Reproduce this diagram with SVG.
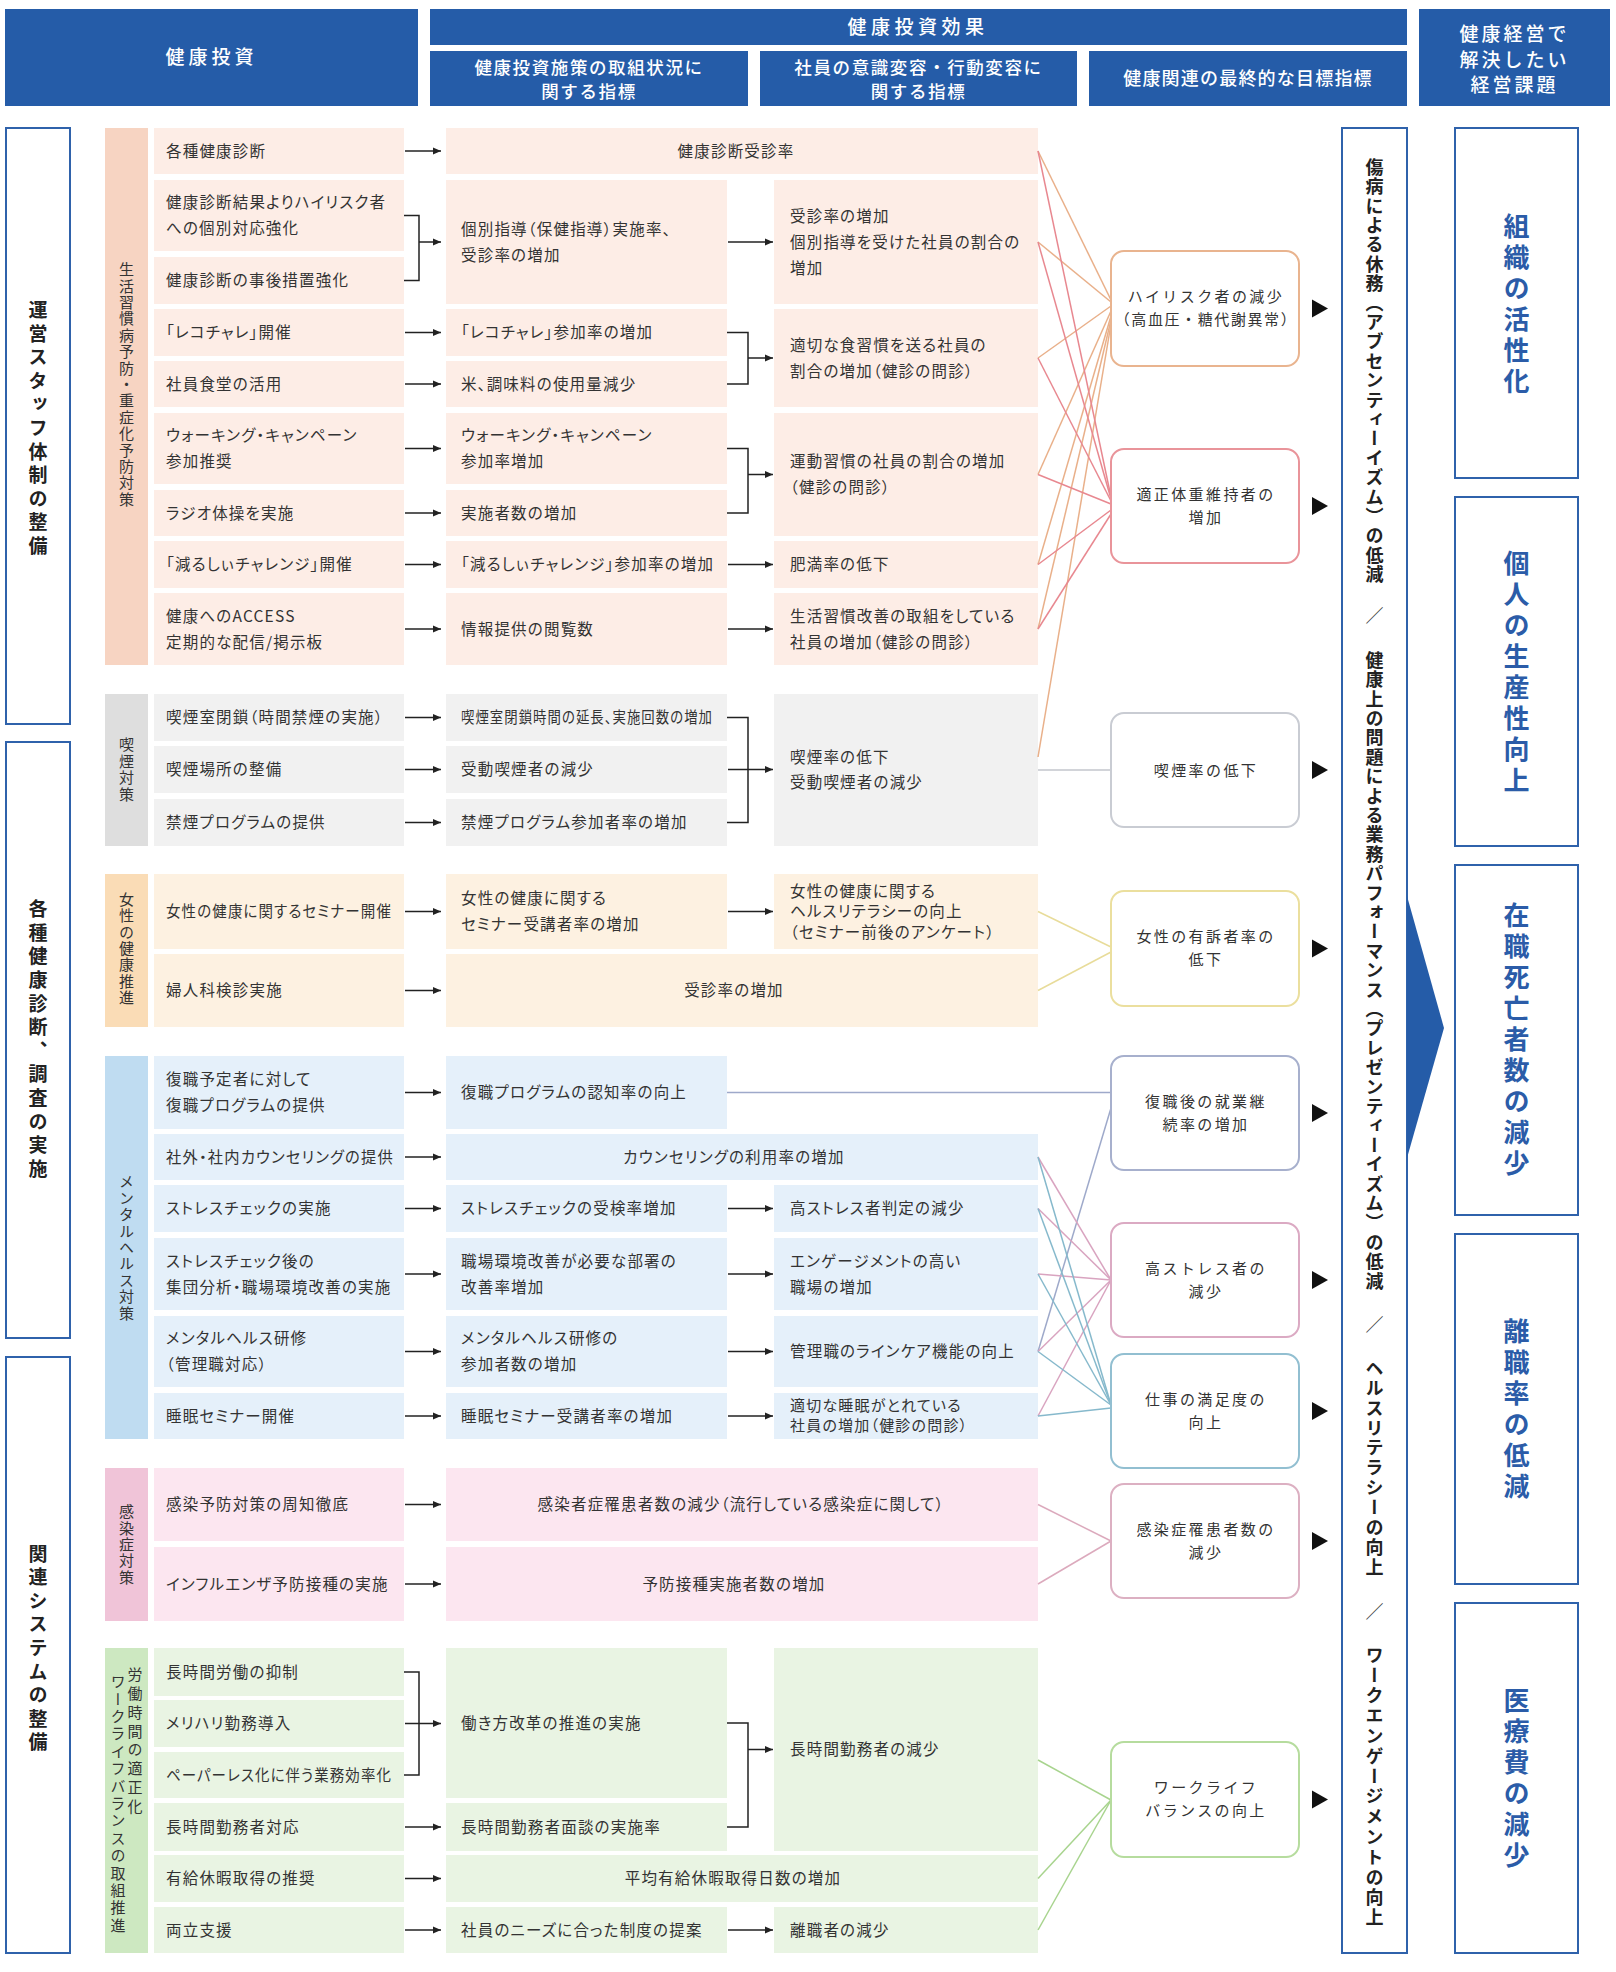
<svg xmlns="http://www.w3.org/2000/svg" width="1616" height="1972" viewBox="0 0 1616 1972">
<defs>
<style>
text{font-family:"Noto Sans CJK JP","Noto Sans",sans-serif;fill:#333}
.t{font-size:15.5px;letter-spacing:1.2px;font-feature-settings:"palt" 1}
.tc{font-size:15.5px;letter-spacing:1.2px;font-feature-settings:"palt" 1;text-anchor:middle}
.gt{font-size:15px;letter-spacing:2.4px;text-anchor:middle}
.h{fill:#fff;text-anchor:middle;font-weight:500}
.hb{fill:#255ca8}
.vt{writing-mode:vertical-rl;text-anchor:middle}
.strip{font-size:15px;letter-spacing:1.4px}
.pil{font-size:19px;letter-spacing:4.6px;font-weight:700;fill:#222}
.iss{font-size:26px;letter-spacing:5px;font-weight:700;fill:#2b5ca8}
.out{font-size:18px;font-weight:700;fill:#222;writing-mode:vertical-rl}
.sl{font-size:18px;fill:#333;text-anchor:middle}
.ob{fill:#fff;stroke:#2f62ab;stroke-width:2}
.ar{fill:none;stroke:#222;stroke-width:1.5}
.goal{fill:#fff;stroke-width:2}
.cn{fill:none;stroke-width:1.5}
.tri{fill:#111}
.s1 .b{fill:#fdede6}.s1 .st{fill:#f7d4c2}
.s2 .b{fill:#f1f1f1}.s2 .st{fill:#dedede}
.s3 .b{fill:#fdf1e1}.s3 .st{fill:#fadcb6}
.s4 .b{fill:#e5f0fa}.s4 .st{fill:#bfdcf1}
.s5 .b{fill:#fce6f0}.s5 .st{fill:#f0c4d8}
.s6 .b{fill:#e9f4e3}.s6 .st{fill:#cde8c1}
</style>
<marker id="ah" viewBox="0 0 8 8" markerWidth="8" markerHeight="8" refX="8" refY="4" orient="auto" markerUnits="userSpaceOnUse"><path d="M0,0.5L8,4L0,7.5z" fill="#222"/></marker>
</defs>
<rect x="0" y="0" width="1616" height="1972" fill="#fff"/>

<g id="header">
<g id="h-invest"><rect class="hb" x="5" y="9" width="413" height="97"/><text class="h" x="211.5" y="64" style="font-size:19px;letter-spacing:4px">健康投資</text></g>
<g id="h-effect"><rect class="hb" x="430" y="9" width="977" height="36"/><text class="h" x="918" y="34" style="font-size:19px;letter-spacing:4.5px">健康投資効果</text></g>
<g id="h-sub1"><rect class="hb" x="430" y="51" width="318" height="55"/><text class="h" style="font-size:17.5px;letter-spacing:1.6px"><tspan x="589" y="74">健康投資施策の取組状況に</tspan><tspan x="589" y="97.5">関する指標</tspan></text></g>
<g id="h-sub2"><rect class="hb" x="760" y="51" width="317" height="55"/><text class="h" style="font-size:17.5px;letter-spacing:1.6px"><tspan x="918.5" y="74">社員の意識変容・行動変容に</tspan><tspan x="918.5" y="97.5">関する指標</tspan></text></g>
<g id="h-sub3"><rect class="hb" x="1089" y="51" width="318" height="55"/><text class="h" x="1248" y="84.5" style="font-size:18px;letter-spacing:1.2px">健康関連の最終的な目標指標</text></g>
<g id="h-issue"><rect class="hb" x="1419" y="9" width="191" height="97"/><text class="h" style="font-size:19px;letter-spacing:3px"><tspan x="1514.5" y="41">健康経営で</tspan><tspan x="1514.5" y="66.5">解決したい</tspan><tspan x="1514.5" y="92">経営課題</tspan></text></g>
</g>

<g id="pillars">
<g id="pillar-staff"><rect class="ob" x="6" y="128" width="64" height="596"/><text class="pil vt" x="38" y="430">運営スタッフ体制の整備</text></g>
<g id="pillar-checkup"><rect class="ob" x="6" y="742" width="64" height="596"/><text class="pil vt" x="38" y="1041">各種健康診断、調査の実施</text></g>
<g id="pillar-system"><rect class="ob" x="6" y="1357" width="64" height="596"/><text class="pil vt" x="38" y="1650">関連システムの整備</text></g>
</g>

<g id="sec-lifestyle" class="s1">
<g id="s1-cat"><rect class="st" x="105" y="128" width="43" height="537"/><text class="strip vt" x="126.5" y="385">生活習慣病予防・重症化予防対策</text></g>
<g id="s1-a1"><rect class="b" x="154" y="128" width="250" height="46"/><text class="t" x="166" y="156.5">各種健康診断</text></g>
<g id="s1-a2"><rect class="b" x="154" y="180" width="250" height="71"/><text class="t"><tspan x="166" y="208">健康診断結果よりハイリスク者</tspan><tspan x="166" y="234">への個別対応強化</tspan></text></g>
<g id="s1-a3"><rect class="b" x="154" y="257" width="250" height="47"/><text class="t" x="166" y="286">健康診断の事後措置強化</text></g>
<g id="s1-a4"><rect class="b" x="154" y="309" width="250" height="47"/><text class="t" x="166" y="338">「レコチャレ」開催</text></g>
<g id="s1-a5"><rect class="b" x="154" y="361" width="250" height="46"/><text class="t" x="166" y="389.5">社員食堂の活用</text></g>
<g id="s1-a6"><rect class="b" x="154" y="413" width="250" height="71"/><text class="t"><tspan x="166" y="441">ウォーキング・キャンペーン</tspan><tspan x="166" y="467">参加推奨</tspan></text></g>
<g id="s1-a7"><rect class="b" x="154" y="490" width="250" height="46"/><text class="t" x="166" y="518.5">ラジオ体操を実施</text></g>
<g id="s1-a8"><rect class="b" x="154" y="541" width="250" height="47"/><text class="t" x="166" y="570">「減るしぃチャレンジ」開催</text></g>
<g id="s1-a9"><rect class="b" x="154" y="593" width="250" height="72"/><text class="t"><tspan x="166" y="621.5">健康へのACCESS</tspan><tspan x="166" y="647.5">定期的な配信/掲示板</tspan></text></g>
<g id="s1-b1"><rect class="b" x="446" y="128" width="592" height="46"/><text class="tc" x="736" y="156.5">健康診断受診率</text></g>
<g id="s1-b2"><rect class="b" x="446" y="180" width="281" height="124"/><text class="t"><tspan x="461" y="234.5">個別指導（保健指導）実施率、</tspan><tspan x="461" y="260.5">受診率の増加</tspan></text></g>
<g id="s1-b4"><rect class="b" x="446" y="309" width="281" height="47"/><text class="t" x="461" y="338">「レコチャレ」参加率の増加</text></g>
<g id="s1-b5"><rect class="b" x="446" y="361" width="281" height="46"/><text class="t" x="461" y="389.5">米、調味料の使用量減少</text></g>
<g id="s1-b6"><rect class="b" x="446" y="413" width="281" height="71"/><text class="t"><tspan x="461" y="441">ウォーキング・キャンペーン</tspan><tspan x="461" y="467">参加率増加</tspan></text></g>
<g id="s1-b7"><rect class="b" x="446" y="490" width="281" height="46"/><text class="t" x="461" y="518.5">実施者数の増加</text></g>
<g id="s1-b8"><rect class="b" x="446" y="541" width="281" height="47"/><text class="t" x="461" y="570">「減るしぃチャレンジ」参加率の増加</text></g>
<g id="s1-b9"><rect class="b" x="446" y="593" width="281" height="72"/><text class="t" x="461" y="634.5">情報提供の閲覧数</text></g>
<g id="s1-c2"><rect class="b" x="774" y="180" width="264" height="124"/><text class="t"><tspan x="790" y="221.5">受診率の増加</tspan><tspan x="790" y="247.5">個別指導を受けた社員の割合の</tspan><tspan x="790" y="273.5">増加</tspan></text></g>
<g id="s1-c4"><rect class="b" x="774" y="309" width="264" height="98"/><text class="t"><tspan x="790" y="350.5">適切な食習慣を送る社員の</tspan><tspan x="790" y="376.5">割合の増加（健診の問診）</tspan></text></g>
<g id="s1-c6"><rect class="b" x="774" y="413" width="264" height="123"/><text class="t"><tspan x="790" y="467">運動習慣の社員の割合の増加</tspan><tspan x="790" y="493">（健診の問診）</tspan></text></g>
<g id="s1-c8"><rect class="b" x="774" y="541" width="264" height="47"/><text class="t" x="790" y="570">肥満率の低下</text></g>
<g id="s1-c9"><rect class="b" x="774" y="593" width="264" height="72"/><text class="t"><tspan x="790" y="621.5">生活習慣改善の取組をしている</tspan><tspan x="790" y="647.5">社員の増加（健診の問診）</tspan></text></g>
</g>

<g id="sec-smoking" class="s2">
<g id="s2-cat"><rect class="st" x="105" y="694" width="43" height="152"/><text class="strip vt" x="126.5" y="770">喫煙対策</text></g>
<g id="s2-a1"><rect class="b" x="154" y="694" width="250" height="47"/><text class="t" x="166" y="723">喫煙室閉鎖（時間禁煙の実施）</text></g>
<g id="s2-a2"><rect class="b" x="154" y="746" width="250" height="47"/><text class="t" x="166" y="775">喫煙場所の整備</text></g>
<g id="s2-a3"><rect class="b" x="154" y="799" width="250" height="47"/><text class="t" x="166" y="828">禁煙プログラムの提供</text></g>
<g id="s2-b1"><rect class="b" x="446" y="694" width="281" height="47"/><text class="t" x="461" y="723" textLength="252" lengthAdjust="spacingAndGlyphs">喫煙室閉鎖時間の延長、実施回数の増加</text></g>
<g id="s2-b2"><rect class="b" x="446" y="746" width="281" height="47"/><text class="t" x="461" y="775">受動喫煙者の減少</text></g>
<g id="s2-b3"><rect class="b" x="446" y="799" width="281" height="47"/><text class="t" x="461" y="828">禁煙プログラム参加者率の増加</text></g>
<g id="s2-c1"><rect class="b" x="774" y="694" width="264" height="152"/><text class="t"><tspan x="790" y="763">喫煙率の低下</tspan><tspan x="790" y="788">受動喫煙者の減少</tspan></text></g>
</g>

<g id="sec-women" class="s3">
<g id="s3-cat"><rect class="st" x="105" y="874" width="43" height="153"/><text class="strip vt" x="126.5" y="949">女性の健康推進</text></g>
<g id="s3-a1"><rect class="b" x="154" y="874" width="250" height="75"/><text class="t" x="166" y="917" textLength="226" lengthAdjust="spacingAndGlyphs">女性の健康に関するセミナー開催</text></g>
<g id="s3-a2"><rect class="b" x="154" y="954" width="250" height="73"/><text class="t" x="166" y="996">婦人科検診実施</text></g>
<g id="s3-b1"><rect class="b" x="446" y="874" width="281" height="75"/><text class="t"><tspan x="461" y="904">女性の健康に関する</tspan><tspan x="461" y="930">セミナー受講者率の増加</tspan></text></g>
<g id="s3-c1"><rect class="b" x="774" y="874" width="264" height="75"/><text class="t"><tspan x="790" y="896.5">女性の健康に関する</tspan><tspan x="790" y="917">ヘルスリテラシーの向上</tspan><tspan x="790" y="937.5">（セミナー前後のアンケート）</tspan></text></g>
<g id="s3-b2"><rect class="b" x="446" y="954" width="592" height="73"/><text class="tc" x="734" y="996">受診率の増加</text></g>
</g>

<g id="sec-mental" class="s4">
<g id="s4-cat"><rect class="st" x="105" y="1056" width="43" height="383"/><text class="strip vt" x="126.5" y="1248">メンタルヘルス対策</text></g>
<g id="s4-a1"><rect class="b" x="154" y="1056" width="250" height="73"/><text class="t"><tspan x="166" y="1085">復職予定者に対して</tspan><tspan x="166" y="1111">復職プログラムの提供</tspan></text></g>
<g id="s4-a2"><rect class="b" x="154" y="1134" width="250" height="46"/><text class="t" x="166" y="1162.5" textLength="228" lengthAdjust="spacingAndGlyphs">社外・社内カウンセリングの提供</text></g>
<g id="s4-a3"><rect class="b" x="154" y="1185" width="250" height="47"/><text class="t" x="166" y="1214">ストレスチェックの実施</text></g>
<g id="s4-a4"><rect class="b" x="154" y="1238" width="250" height="72"/><text class="t"><tspan x="166" y="1266.5">ストレスチェック後の</tspan><tspan x="166" y="1292.5">集団分析・職場環境改善の実施</tspan></text></g>
<g id="s4-a5"><rect class="b" x="154" y="1316" width="250" height="71"/><text class="t"><tspan x="166" y="1344">メンタルヘルス研修</tspan><tspan x="166" y="1370">（管理職対応）</tspan></text></g>
<g id="s4-a6"><rect class="b" x="154" y="1393" width="250" height="46"/><text class="t" x="166" y="1421.5">睡眠セミナー開催</text></g>
<g id="s4-b1"><rect class="b" x="446" y="1056" width="281" height="73"/><text class="t" x="461" y="1098">復職プログラムの認知率の向上</text></g>
<g id="s4-b2"><rect class="b" x="446" y="1134" width="592" height="46"/><text class="tc" x="734" y="1162.5">カウンセリングの利用率の増加</text></g>
<g id="s4-b3"><rect class="b" x="446" y="1185" width="281" height="47"/><text class="t" x="461" y="1214">ストレスチェックの受検率増加</text></g>
<g id="s4-b4"><rect class="b" x="446" y="1238" width="281" height="72"/><text class="t"><tspan x="461" y="1266.5">職場環境改善が必要な部署の</tspan><tspan x="461" y="1292.5">改善率増加</tspan></text></g>
<g id="s4-b5"><rect class="b" x="446" y="1316" width="281" height="71"/><text class="t"><tspan x="461" y="1344">メンタルヘルス研修の</tspan><tspan x="461" y="1370">参加者数の増加</tspan></text></g>
<g id="s4-b6"><rect class="b" x="446" y="1393" width="281" height="46"/><text class="t" x="461" y="1421.5">睡眠セミナー受講者率の増加</text></g>
<g id="s4-c3"><rect class="b" x="774" y="1185" width="264" height="47"/><text class="t" x="790" y="1214">高ストレス者判定の減少</text></g>
<g id="s4-c4"><rect class="b" x="774" y="1238" width="264" height="72"/><text class="t"><tspan x="790" y="1266.5">エンゲージメントの高い</tspan><tspan x="790" y="1292.5">職場の増加</tspan></text></g>
<g id="s4-c5"><rect class="b" x="774" y="1316" width="264" height="71"/><text class="t" x="790" y="1357">管理職のラインケア機能の向上</text></g>
<g id="s4-c6"><rect class="b" x="774" y="1393" width="264" height="46"/><text class="t" style="font-size:15px"><tspan x="790" y="1411">適切な睡眠がとれている</tspan><tspan x="790" y="1431">社員の増加（健診の問診）</tspan></text></g>
</g>

<g id="sec-infection" class="s5">
<g id="s5-cat"><rect class="st" x="105" y="1468" width="43" height="153"/><text class="strip vt" x="126.5" y="1545">感染症対策</text></g>
<g id="s5-a1"><rect class="b" x="154" y="1468" width="250" height="73"/><text class="t" x="166" y="1510">感染予防対策の周知徹底</text></g>
<g id="s5-a2"><rect class="b" x="154" y="1547" width="250" height="74"/><text class="t" x="166" y="1589.5">インフルエンザ予防接種の実施</text></g>
<g id="s5-b1"><rect class="b" x="446" y="1468" width="592" height="73"/><text class="tc" x="741" y="1510">感染者症罹患者数の減少（流行している感染症に関して）</text></g>
<g id="s5-b2"><rect class="b" x="446" y="1547" width="592" height="74"/><text class="tc" x="734" y="1589.5">予防接種実施者数の増加</text></g>
</g>

<g id="sec-worklife" class="s6">
<g id="s6-cat"><rect class="st" x="105" y="1648" width="43" height="305"/><text class="strip" style="writing-mode:vertical-rl;letter-spacing:3.8px" x="135" y="1667">労働時間の適正化</text><text class="strip" style="writing-mode:vertical-rl;letter-spacing:2.4px" x="118" y="1674">ワークライフバランスの取組推進</text></g>
<g id="s6-a1"><rect class="b" x="154" y="1648" width="250" height="48"/><text class="t" x="166" y="1677.5">長時間労働の抑制</text></g>
<g id="s6-a2"><rect class="b" x="154" y="1700" width="250" height="47"/><text class="t" x="166" y="1729">メリハリ勤務導入</text></g>
<g id="s6-a3"><rect class="b" x="154" y="1752" width="250" height="46"/><text class="t" x="166" y="1780.5" textLength="226" lengthAdjust="spacingAndGlyphs">ペーパーレス化に伴う業務効率化</text></g>
<g id="s6-a4"><rect class="b" x="154" y="1803" width="250" height="48"/><text class="t" x="166" y="1832.5">長時間勤務者対応</text></g>
<g id="s6-a5"><rect class="b" x="154" y="1855" width="250" height="47"/><text class="t" x="166" y="1884">有給休暇取得の推奨</text></g>
<g id="s6-a6"><rect class="b" x="154" y="1907" width="250" height="46"/><text class="t" x="166" y="1935.5">両立支援</text></g>
<g id="s6-b1"><rect class="b" x="446" y="1648" width="281" height="150"/><text class="t" x="461" y="1729">働き方改革の推進の実施</text></g>
<g id="s6-b4"><rect class="b" x="446" y="1803" width="281" height="48"/><text class="t" x="461" y="1832.5">長時間勤務者面談の実施率</text></g>
<g id="s6-b5"><rect class="b" x="446" y="1855" width="592" height="47"/><text class="tc" x="733" y="1884">平均有給休暇取得日数の増加</text></g>
<g id="s6-b6"><rect class="b" x="446" y="1907" width="281" height="46"/><text class="t" x="461" y="1935.5">社員のニーズに合った制度の提案</text></g>
<g id="s6-c1"><rect class="b" x="774" y="1648" width="264" height="203"/><text class="t" x="790" y="1755">長時間勤務者の減少</text></g>
<g id="s6-c6"><rect class="b" x="774" y="1907" width="264" height="46"/><text class="t" x="790" y="1935.5">離職者の減少</text></g>
</g>

<g id="connectors">
<g id="arrows" class="ar" marker-end="url(#ah)">
<path d="M405,151H441"/><path d="M419,242H441"/><path d="M405,332.5H441"/><path d="M405,384H441"/><path d="M405,448.5H441"/><path d="M405,513H441"/><path d="M405,564.5H441"/><path d="M405,629H441"/>
<path d="M728,242H773"/><path d="M748,358H773"/><path d="M748,474.5H773"/><path d="M728,564.5H773"/><path d="M728,629H773"/>
<path d="M405,717.5H441"/><path d="M405,769.5H441"/><path d="M405,822.5H441"/><path d="M728,769.5H773"/>
<path d="M405,911.5H441"/><path d="M405,990.5H441"/><path d="M728,911.5H773"/>
<path d="M405,1092.5H441"/><path d="M405,1157H441"/><path d="M405,1208.5H441"/><path d="M405,1274H441"/><path d="M405,1351.5H441"/><path d="M405,1416H441"/>
<path d="M728,1208.5H773"/><path d="M728,1274H773"/><path d="M728,1351.5H773"/><path d="M728,1416H773"/>
<path d="M405,1504.5H441"/><path d="M405,1584H441"/>
<path d="M405,1723.5H441"/><path d="M405,1827H441"/><path d="M405,1878.5H441"/><path d="M405,1930H441"/>
<path d="M748,1749.5H773"/><path d="M728,1930H773"/>
</g>
<g id="brackets" class="ar">
<path d="M404,215.5H419V280.5H404"/>
<path d="M727,332.5H748V384H727"/>
<path d="M727,448.5H748V513H727"/>
<path d="M727,717.5H748V822.5H727"/>
<path d="M404,1672H419V1775H404"/>
<path d="M727,1723H748V1827H727"/>
</g>
<g id="to-highrisk" class="cn" stroke="#e9b08a">
<path d="M1038,151L1111,300"/><path d="M1038,242L1111,302"/><path d="M1038,358L1111,306"/><path d="M1038,474.5L1111,311"/><path d="M1038,564.5L1111,316"/><path d="M1038,629L1111,320"/><path d="M1038,757L1111,324"/>
</g>
<g id="to-weight" class="cn" stroke="#e88890">
<path d="M1038,151L1111,497"/><path d="M1038,242L1111,499"/><path d="M1038,358L1111,501"/><path d="M1038,474.5L1111,504"/><path d="M1038,564.5L1111,510"/><path d="M1038,629L1111,514"/>
</g>
<g id="to-smoking" class="cn" stroke="#c3c6cc"><path d="M1038,770H1111"/></g>
<g id="to-women" class="cn" stroke="#e8dc9a"><path d="M1038,911.5L1111,947"/><path d="M1038,990.5L1111,952"/></g>
<g id="to-return" class="cn" stroke="#9ea9ca"><path d="M727,1092.5H1111"/><path d="M1038,1351.5L1111,1108"/></g>
<g id="to-stress" class="cn" stroke="#d9a4c0">
<path d="M1038,1157L1111,1280"/><path d="M1038,1208.5L1111,1280"/><path d="M1038,1274L1111,1280"/><path d="M1038,1351.5L1111,1280"/><path d="M1038,1416L1111,1280"/>
</g>
<g id="to-satisfaction" class="cn" stroke="#86b9cc">
<path d="M1038,1157L1111,1405"/><path d="M1038,1208.5L1111,1405"/><path d="M1038,1274L1111,1405"/><path d="M1038,1351.5L1111,1405"/><path d="M1038,1416L1111,1408"/>
</g>
<g id="to-infection" class="cn" stroke="#dcaabd"><path d="M1038,1504.5L1111,1541"/><path d="M1038,1584L1111,1541"/></g>
<g id="to-worklife" class="cn" stroke="#a8d48e"><path d="M1038,1760L1111,1800"/><path d="M1038,1878.5L1111,1800"/><path d="M1038,1930L1111,1800"/></g>
<g id="goal-arrows" class="tri">
<path d="M1312,299.5L1328,308.5L1312,317.5z"/><path d="M1312,497L1328,506L1312,515z"/><path d="M1312,761L1328,770L1312,779z"/>
<path d="M1312,939.5L1328,948.5L1312,957.5z"/><path d="M1312,1104L1328,1113L1312,1122z"/><path d="M1312,1271L1328,1280L1312,1289z"/>
<path d="M1312,1402L1328,1411L1312,1420z"/><path d="M1312,1532L1328,1541L1312,1550z"/><path d="M1312,1790.5L1328,1799.5L1312,1808.5z"/>
</g>
</g>

<g id="goals">
<g id="goal-highrisk"><rect class="goal" x="1111" y="251" width="188" height="115" rx="13" stroke="#e9b48f"/><text class="gt"><tspan x="1206" y="302.3">ハイリスク者の減少</tspan><tspan x="1206" y="325.3" style="letter-spacing:1.6px">（高血圧・糖代謝異常）</tspan></text></g>
<g id="goal-weight"><rect class="goal" x="1111" y="449" width="188" height="114" rx="13" stroke="#e9949a"/><text class="gt"><tspan x="1206" y="500">適正体重維持者の</tspan><tspan x="1206" y="523">増加</tspan></text></g>
<g id="goal-smoking"><rect class="goal" x="1111" y="713" width="188" height="114" rx="13" stroke="#c9ccd3"/><text class="gt" x="1206" y="775.5">喫煙率の低下</text></g>
<g id="goal-women"><rect class="goal" x="1111" y="891" width="188" height="115" rx="13" stroke="#ebdf9e"/><text class="gt"><tspan x="1206" y="942">女性の有訴者率の</tspan><tspan x="1206" y="965">低下</tspan></text></g>
<g id="goal-return"><rect class="goal" x="1111" y="1056" width="188" height="114" rx="13" stroke="#a7b0cd"/><text class="gt"><tspan x="1206" y="1107">復職後の就業継</tspan><tspan x="1206" y="1130">続率の増加</tspan></text></g>
<g id="goal-stress"><rect class="goal" x="1111" y="1223" width="188" height="114" rx="13" stroke="#dbaac3"/><text class="gt"><tspan x="1206" y="1274">高ストレス者の</tspan><tspan x="1206" y="1297">減少</tspan></text></g>
<g id="goal-satisfaction"><rect class="goal" x="1111" y="1354" width="188" height="114" rx="13" stroke="#92bfd1"/><text class="gt"><tspan x="1206" y="1405">仕事の満足度の</tspan><tspan x="1206" y="1428">向上</tspan></text></g>
<g id="goal-infection"><rect class="goal" x="1111" y="1484" width="188" height="114" rx="13" stroke="#dcb0c2"/><text class="gt"><tspan x="1206" y="1535">感染症罹患者数の</tspan><tspan x="1206" y="1558">減少</tspan></text></g>
<g id="goal-worklife"><rect class="goal" x="1111" y="1742" width="188" height="115" rx="13" stroke="#b6dc9e"/><text class="gt"><tspan x="1206" y="1793">ワークライフ</tspan><tspan x="1206" y="1816">バランスの向上</tspan></text></g>
</g>

<g id="outcome">
<rect class="ob" x="1342" y="128" width="65" height="1825"/>
<text class="out" x="1374.5" y="158" style="letter-spacing:1.4px">傷病による休務（アブセンティーイズム）の低減</text>
<text class="sl" x="1374.5" y="622">／</text>
<text class="out" x="1374.5" y="651" style="letter-spacing:1.4px">健康上の問題による業務パフォーマンス（プレゼンティーイズム）の低減</text>
<text class="sl" x="1374.5" y="1331">／</text>
<text class="out" x="1374.5" y="1359" style="letter-spacing:1.9px">ヘルスリテラシーの向上</text>
<text class="sl" x="1374.5" y="1618">／</text>
<text class="out" x="1374.5" y="1646" style="letter-spacing:2.2px">ワークエンゲージメントの向上</text>
<polygon points="1407,896 1444,1028 1407,1158" fill="#255ca8"/>
</g>

<g id="issues">
<g id="issue-org"><rect class="ob" x="1455" y="128" width="123" height="350"/><text class="iss vt" x="1516.5" y="306">組織の活性化</text></g>
<g id="issue-prod"><rect class="ob" x="1455" y="497" width="123" height="349"/><text class="iss vt" x="1516.5" y="674">個人の生産性向上</text></g>
<g id="issue-death"><rect class="ob" x="1455" y="865" width="123" height="350"/><text class="iss vt" x="1516.5" y="1042">在職死亡者数の減少</text></g>
<g id="issue-turnover"><rect class="ob" x="1455" y="1234" width="123" height="350"/><text class="iss vt" x="1516.5" y="1411">離職率の低減</text></g>
<g id="issue-medical"><rect class="ob" x="1455" y="1603" width="123" height="350"/><text class="iss vt" x="1516.5" y="1780">医療費の減少</text></g>
</g>
</svg>
